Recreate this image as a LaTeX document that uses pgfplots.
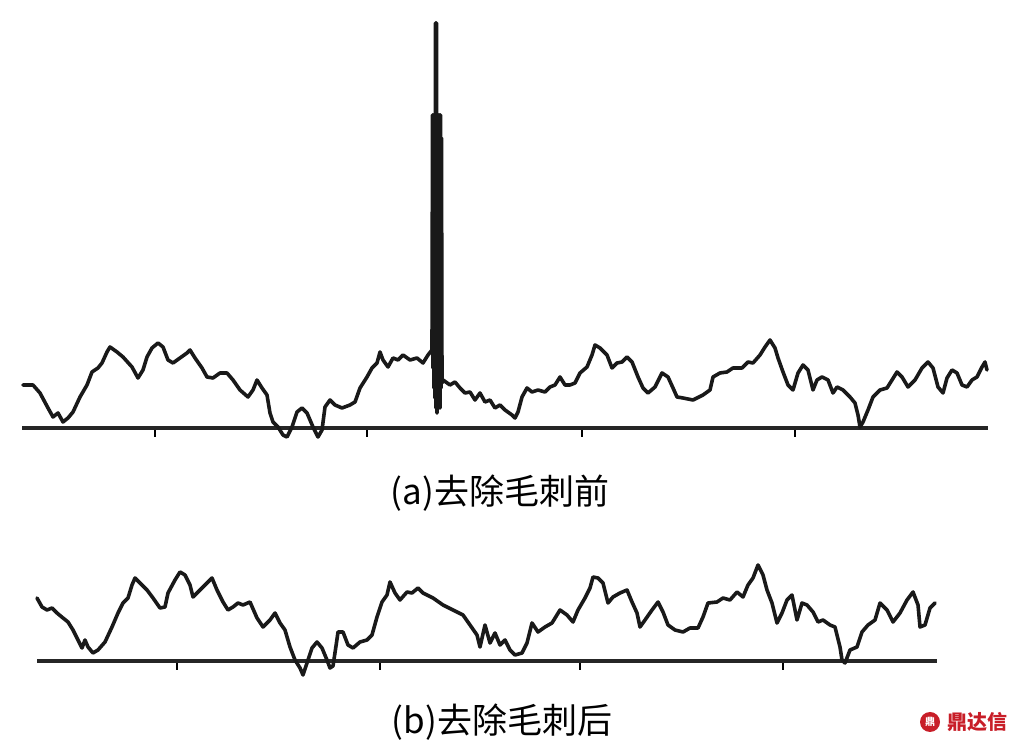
\documentclass[border=0pt]{standalone}
\usepackage{fontspec}
\newfontfamily\cjk{Noto Sans CJK SC}
\usepackage{pgfplots}
\pgfplotsset{compat=1.18}
\usepackage{pgfplotstable}
\definecolor{wmred}{RGB}{200,30,40}

\pgfplotstableread{
x h
23 43
33 43
40 35
48 20
53 11
58 15
63 6
68 10
73 16
80 31
87 43
92 56
98 60
102 65
107 76
110 81
117 76
123 71
132 61
138 50
143 58
147 71
152 80
158 85
163 81
168 68
173 65
180 70
187 75
190 78
195 70
202 60
207 51
213 50
220 55
227 55
233 48
240 38
248 31
253 38
257 48
262 40
267 33
270 15
273 6
278 1
283 -7
287 -9
292 1
297 16
302 20
307 15
313 1
318 -9
322 -2
325 21
330 28
335 23
342 20
350 23
355 26
360 40
367 51
372 60
377 65
380 76
383 68
388 61
393 70
398 68
403 73
410 68
417 70
423 65
428 73
432 78
432.5 313
433 60
433.5 313
434 40
434.5 300
435 30
435.5 405
436 20
436.5 405
437 15
437.5 313
438 25
438.5 313
439 35
439.5 313
440 20
440.5 313
441 40
441.5 290
442 45
443 48
450 43
455 46
460 40
465 35
470 36
475 28
480 35
485 26
490 28
495 20
500 23
505 18
512 13
515 10
518 16
522 31
527 40
532 36
538 38
545 36
550 41
555 43
560 51
565 43
570 43
575 45
580 55
587 61
592 73
595 83
600 80
607 73
612 60
617 65
622 66
627 71
632 66
638 51
643 40
648 35
655 41
662 55
668 51
673 40
677 31
683 30
693 28
703 33
710 38
713 51
720 55
727 56
733 60
742 60
748 66
753 65
760 73
765 81
770 88
775 80
778 70
783 56
788 43
793 38
798 55
803 63
808 58
813 38
817 48
822 51
828 48
833 35
837 41
843 38
850 31
855 25
858 13
860 1
863 6
868 18
873 31
880 38
887 40
892 48
897 56
902 51
908 41
915 48
922 60
928 66
933 60
938 41
943 35
947 50
952 58
957 55
962 43
967 41
972 48
977 51
982 61
985 66
987 58
}\before

\pgfplotstableread{
x h
37 63
42 54
47 51
52 53
57 48
63 43
68 39
73 31
78 21
82 13
85 21
88 14
93 8
98 11
105 19
112 34
118 48
123 58
128 63
132 76
135 83
140 78
147 71
153 63
160 53
165 54
168 68
175 81
180 89
185 86
190 76
193 64
198 69
203 74
212 83
217 71
223 59
228 51
233 54
238 58
243 56
250 59
257 43
263 34
270 41
275 48
280 38
285 31
290 14
295 1
300 -7
303 -14
307 -2
312 13
317 19
322 13
327 1
330 -7
333 -5
336 15
338 29
343 29
348 16
353 13
360 19
367 21
372 26
377 44
382 59
387 66
390 79
395 68
400 61
407 69
412 68
418 73
423 68
433 63
443 56
453 51
463 46
470 36
477 26
480 14
485 36
490 18
495 28
500 16
505 21
510 11
515 6
522 8
527 18
532 38
538 29
545 34
552 38
560 51
567 46
573 39
578 51
585 63
590 73
593 84
598 83
603 78
608 58
613 64
620 68
627 71
632 59
637 48
640 34
645 41
652 51
658 59
663 49
668 36
675 31
683 29
690 33
698 33
703 44
708 58
717 59
723 63
730 61
737 69
743 64
748 76
753 83
758 96
763 86
767 71
772 58
777 38
782 48
787 61
792 66
797 41
802 58
807 56
813 49
818 39
823 41
830 36
835 34
840 14
842 1
845 -2
850 11
857 14
862 29
868 36
875 41
880 58
887 51
893 39
900 48
907 61
913 69
918 56
920 34
925 36
930 53
935 58
}\after

\pgfplotsset{
  sig/.style={
    x=0.5pt, y=0.5pt,
    anchor=south west,
    axis x line=middle,
    axis y line=none,
    axis line style={-, line width=1.8pt, black!85},
    ytick=\empty,
    xticklabels={},
    tick align=outside,
    major tick length=4.5pt,
    every tick/.style={black, line width=1.2pt},
    clip=false,
  },
  curve/.style={black!90, line width=1.8pt, line join=round, line cap=round, mark=none},
}

\begin{document}
\begin{tikzpicture}
\path[use as bounding box] (0,0) rectangle (511pt,374pt);
% panel (a)
\begin{axis}[sig, at={(11pt,152.5pt)},
  xmin=22, xmax=988, ymin=-15, ymax=410,
  xtick={155,367,582,795}]
  \addplot[curve] table[x=x,y=h] {\before};
\end{axis}
% panel (b)
\begin{axis}[sig, at={(18.5pt,33.5pt)},
  xmin=37, xmax=937, ymin=-20, ymax=100,
  xtick={177,380,580,783}]
  \addplot[curve] table[x=x,y=h] {\after};
\end{axis}
\node[font=\cjk\fontsize{17.5pt}{20pt}\selectfont] at (250pt,127.5pt) {(a)去除毛刺前};
\node[font=\cjk\fontsize{17.5pt}{20pt}\selectfont] at (251pt,13pt) {(b)去除毛刺后};
% watermark
\fill[wmred] (465pt,13pt) circle (5pt);
\node[white, font=\cjk\bfseries\fontsize{5pt}{5pt}\selectfont] at (465pt,13pt) {鼎};
\node[wmred, anchor=west, font=\cjk\bfseries\fontsize{10pt}{11pt}\selectfont] at (470pt,13pt) {鼎达信};
\end{tikzpicture}
\end{document}
